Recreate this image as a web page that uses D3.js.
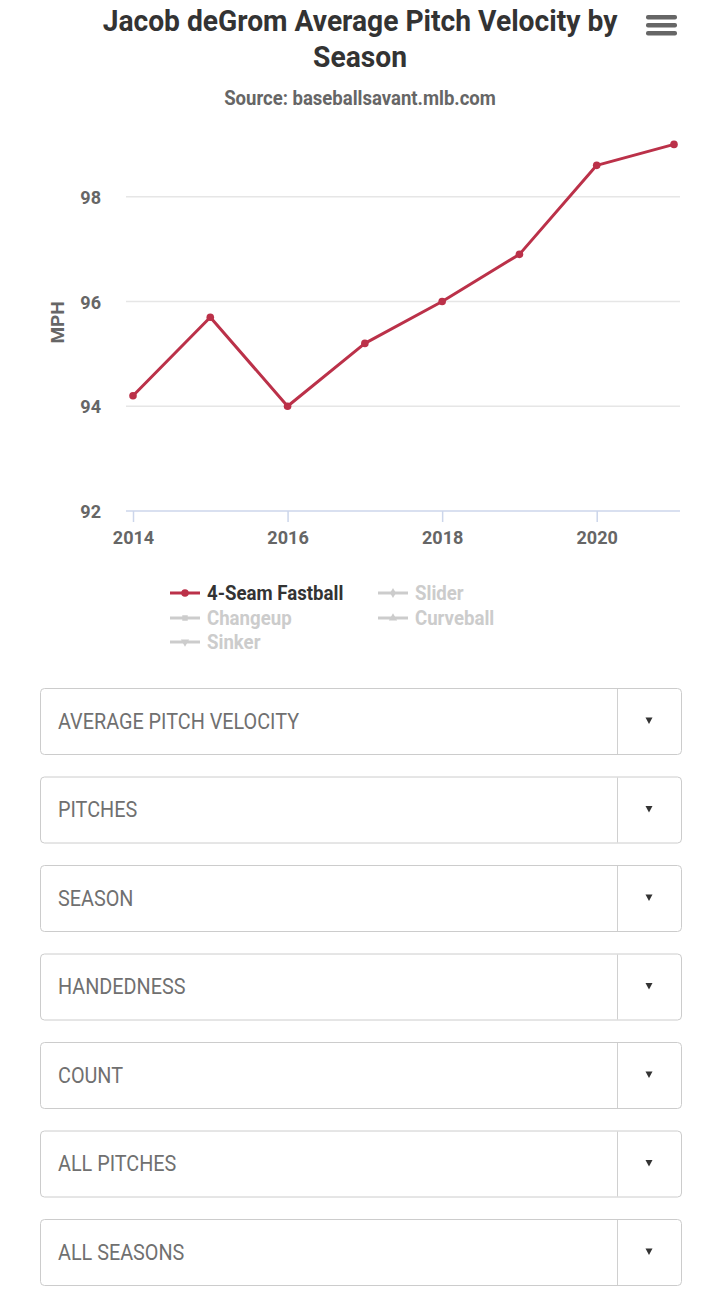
<!DOCTYPE html>
<html><head><meta charset="utf-8">
<script src="https://cdn.jsdelivr.net/npm/d3@7"></script>
<style>html,body{margin:0;padding:0;background:#fff;}svg{display:block;}</style>
</head><body>
<svg id="c" width="720" height="1313"></svg>
<script>
const seasons = [2014, 2015, 2016, 2017, 2018, 2019, 2020, 2021];
const fastball = [94.2, 95.7, 94.0, 95.2, 96.0, 96.9, 98.6, 99.0];
const yTicks = [92, 94, 96, 98];
const xTicks = [2014, 2016, 2018, 2020];
const legendNames = ["4-Seam Fastball", "Slider", "Changeup", "Curveball", "Sinker"];
const legendVisible = [true, false, false, false, false];
const legendSymbols = ["circle", "diamond", "square", "triangle", "triangle-down"];
const dropdownLabels = ["AVERAGE PITCH VELOCITY", "PITCHES", "SEASON", "HANDEDNESS", "COUNT", "ALL PITCHES", "ALL SEASONS"];

const FONT = "Roboto, 'Noto Sans', sans-serif";
const svg = d3.select("#c");

function condense(sel, factor) {
  sel.each(function(){
    const w = this.getComputedTextLength();
    d3.select(this).attr("textLength", w * factor).attr("lengthAdjust", "spacingAndGlyphs");
  });
  return sel;
}

// Title
condense(svg.append("text").attr("x", 360).attr("y", 31).attr("text-anchor", "middle")
  .attr("font-family", FONT).attr("font-weight", 700).attr("font-size", 30).attr("fill", "#333")
  .text("Jacob deGrom Average Pitch Velocity by"), 0.94);
condense(svg.append("text").attr("x", 360).attr("y", 67).attr("text-anchor", "middle")
  .attr("font-family", FONT).attr("font-weight", 700).attr("font-size", 30).attr("fill", "#333")
  .text("Season"), 0.94);
condense(svg.append("text").attr("x", 360).attr("y", 105).attr("text-anchor", "middle")
  .attr("font-family", FONT).attr("font-weight", 700).attr("font-size", 19.5).attr("fill", "#666")
  .text("Source: baseballsavant.mlb.com"), 0.95);

// Hamburger
[17, 25, 33].forEach(y => {
  svg.append("rect").attr("x", 646).attr("y", y - 2).attr("width", 31).attr("height", 4.5)
    .attr("rx", 2).attr("fill", "#666");
});

// Scales
const x = d3.scaleLinear().domain([2014, 2021]).range([133, 674]);
const y = d3.scaleLinear().domain([92, 100]).range([511, 92]);
const plotLeft = 126, plotRight = 680;

// Grid
svg.append("g").selectAll("line").data(yTicks.filter(d => d !== 92)).join("line")
  .attr("x1", plotLeft).attr("x2", plotRight)
  .attr("y1", d => y(d)).attr("y2", d => y(d))
  .attr("stroke", "#e6e6e6").attr("stroke-width", 1.5);

// X axis
const xAxis = svg.append("g").attr("transform", `translate(0,${y(92)})`)
  .call(d3.axisBottom(x).tickValues(xTicks).tickFormat(d3.format("d")).tickSize(11).tickPadding(9));
xAxis.select(".domain").attr("d", `M${plotLeft},0H${plotRight}`).attr("stroke", "#ccd6eb").attr("stroke-width", 1.5);
xAxis.selectAll(".tick line").attr("stroke", "#ccd6eb").attr("stroke-width", 1.5);
xAxis.selectAll(".tick text").attr("font-family", FONT).attr("font-weight", 700).attr("font-size", 19)
  .attr("fill", "#666").attr("dy", "0.71em");
condense(xAxis.selectAll(".tick text"), 0.95);

// Y axis labels
const yAxis = svg.append("g").attr("transform", `translate(${plotLeft},0)`)
  .call(d3.axisLeft(y).tickValues(yTicks).tickSize(0).tickPadding(25));
yAxis.select(".domain").remove();
yAxis.selectAll(".tick text").attr("font-family", FONT).attr("font-weight", 700).attr("font-size", 19)
  .attr("fill", "#666").attr("dy", "0.35em");
condense(yAxis.selectAll(".tick text"), 0.95);

// Y axis title
condense(svg.append("text").attr("transform", `translate(64,${y(95.6)}) rotate(-90)`)
  .attr("text-anchor", "middle").attr("font-family", FONT).attr("font-weight", 700)
  .attr("font-size", 19).attr("fill", "#666").text("MPH"), 1.0);

// Line
const pts = seasons.map((s, i) => [s, fastball[i]]);
const color = "#bb3149";
svg.append("path").datum(pts)
  .attr("d", d3.line().x(d => x(d[0])).y(d => y(d[1])))
  .attr("fill", "none").attr("stroke", color).attr("stroke-width", 3).attr("stroke-linejoin", "round");
svg.append("g").selectAll("circle").data(pts).join("circle")
  .attr("cx", d => x(d[0])).attr("cy", d => y(d[1])).attr("r", 3.8).attr("fill", color);

// Legend
const symMap = {circle: d3.symbolCircle, diamond: d3.symbolDiamond, square: d3.symbolSquare,
  triangle: d3.symbolTriangle, "triangle-down": d3.symbolTriangle};
const legPos = [[170, 593], [378, 593], [170, 618], [378, 618], [170, 642]];
legendNames.forEach((n, i) => {
  const [lx, ly] = legPos[i];
  const c = legendVisible[i] ? color : "#cccccc";
  const g = svg.append("g").attr("transform", `translate(${lx},${ly})`);
  g.append("line").attr("x1", 0).attr("x2", 30).attr("y1", 0).attr("y2", 0).attr("stroke", c).attr("stroke-width", 3);
  g.append("path").attr("d", d3.symbol().type(symMap[legendSymbols[i]]).size(legendVisible[i] ? 45 : 30)())
    .attr("transform", `translate(15,0)` + (legendSymbols[i] === "triangle-down" ? " rotate(180)" : ""))
    .attr("fill", c);
  condense(g.append("text").attr("x", 37).attr("y", 7).attr("font-family", FONT).attr("font-weight", 700)
    .attr("font-size", 19.5).attr("fill", legendVisible[i] ? "#333" : "#cccccc").text(n), 0.955);
});

// Dropdowns
const dd = d3.scaleLinear().domain([0, dropdownLabels.length - 1]).range([688, 1219]);
dropdownLabels.forEach((lab, i) => {
  const top = dd(i);
  const g = svg.append("g").attr("transform", `translate(0,${top})`);
  g.append("rect").attr("x", 40.5).attr("y", 0.5).attr("width", 641).attr("height", 66).attr("rx", 4)
    .attr("fill", "#fff").attr("stroke", "#cccccc").attr("stroke-width", 1);
  g.append("line").attr("x1", 617.5).attr("x2", 617.5).attr("y1", 1).attr("y2", 66).attr("stroke", "#d0d0d0");
  g.append("path").attr("d", "M645.5,29.5L652.5,29.5L649,36Z").attr("fill", "#333");
  condense(g.append("text").attr("x", 58).attr("y", 40.5).attr("font-family", FONT).attr("font-weight", 400)
    .attr("font-size", 22).attr("fill", "#707070").text(lab), 0.90);
});
</script>
</body></html>
